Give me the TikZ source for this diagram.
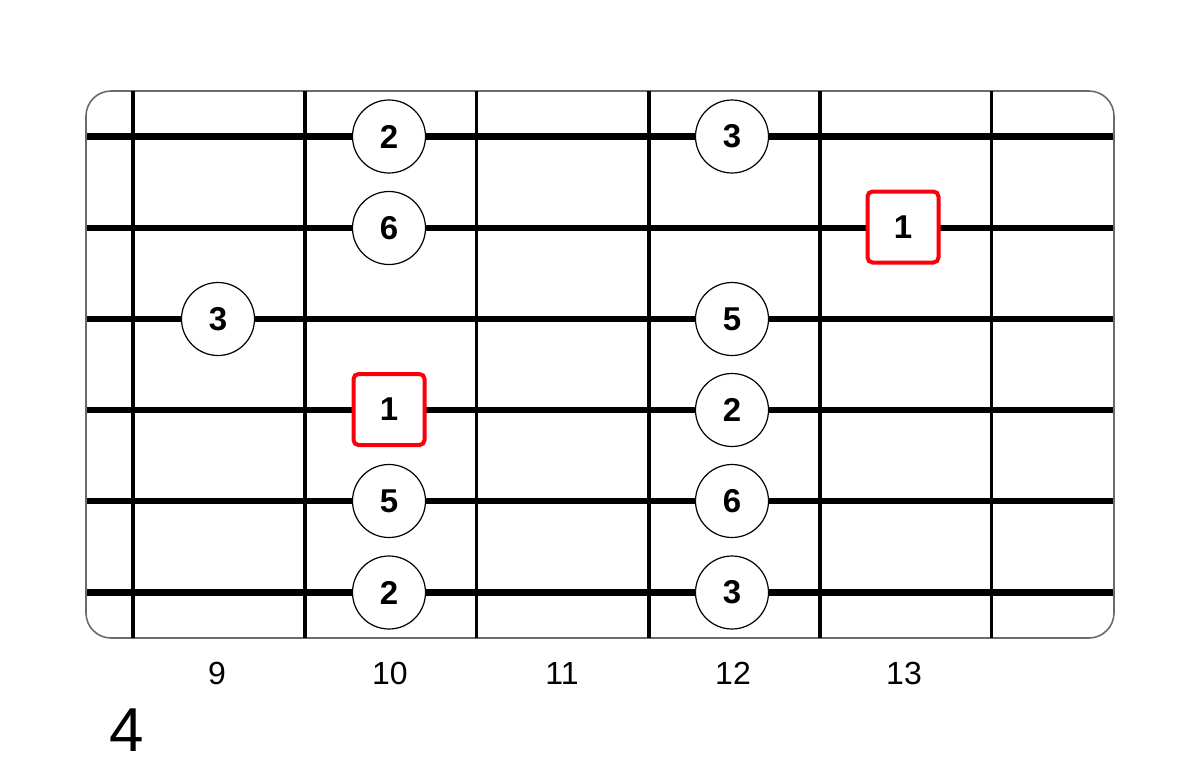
\documentclass[tikz,border=0pt]{standalone}
\usepackage{fontspec}
\setmainfont{Liberation Sans}
\begin{document}
\begin{tikzpicture}[x=1pt,y=-1pt,
  board/.style={draw=black!58,line width=1.6pt,rounded corners=25pt,fill=white},
  fretline/.style={draw=black,line width=3.2pt},
  stringline/.style={draw=black,line width=6.5pt},
  note/.style={circle,draw=black,line width=1.2pt,fill=white,minimum size=73pt,inner sep=0pt,font=\fontsize{33}{33}\selectfont\bfseries},
  root/.style={rectangle,rounded corners=5pt,draw={rgb,255:red,250;green,0;blue,10},line width=4pt,fill=white,minimum size=71pt,inner sep=0pt,font=\fontsize{33}{33}\selectfont\bfseries},
  fretnum/.style={font=\fontsize{32}{32}\selectfont},
  shapenum/.style={font=\fontsize{62}{62}\selectfont}]
\useasboundingbox (0,0) rectangle (1200,774);
\draw[board] (86,91) rectangle (1114,638);
\foreach \x in {133,305,476.5,649,820,991.5}
  \draw[fretline] (\x,91) -- (\x,638);
\foreach \y in {136.5,228,319,410,501,592.5}
  \draw[stringline] (86.8,\y) -- (1113.2,\y);
\node[note] (n1) at (389,136.5) {2};
\node[note] (n2) at (732,136.5) {3};
\node[note] (n3) at (389,228) {6};
\node[root] (r1) at (903,227) {1};
\node[note] (n4) at (218,319) {3};
\node[note] (n5) at (732,319) {5};
\node[root] (r2) at (389,409.5) {1};
\node[note] (n6) at (732,410) {2};
\node[note] (n7) at (389,501) {5};
\node[note] (n8) at (732,501) {6};
\node[note] (n9) at (389,592.5) {2};
\node[note] (n10) at (732,592.5) {3};
\node[fretnum] (f9) at (217,673.5) {9};
\node[fretnum] (f10) at (390,673.5) {10};
\node[fretnum] (f11) at (562,673.5) {11};
\node[fretnum] (f12) at (733,673.5) {12};
\node[fretnum] (f13) at (904,673.5) {13};
\node[shapenum] (pos) at (127,730) {4};
\end{tikzpicture}
\end{document}
